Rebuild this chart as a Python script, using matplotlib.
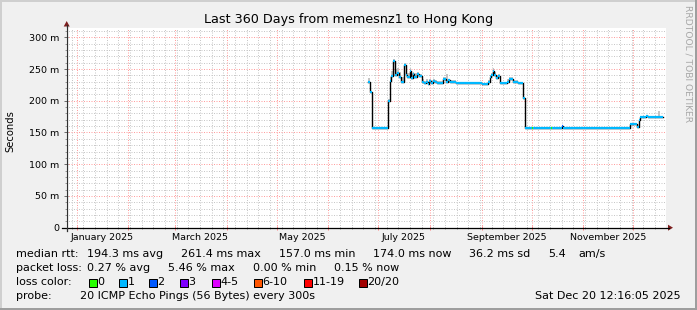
import matplotlib
matplotlib.use("Agg")
import matplotlib.pyplot as plt
import matplotlib.dates as mdates
from matplotlib.patches import Rectangle, Polygon
from matplotlib.lines import Line2D
import numpy as np
import pandas as pd

# ---------------- data ----------------
title = "Last 360 Days from memesnz1 to Hong Kong"
y_label = "Seconds"
t_start = "2024-12-25 12:16:05"
t_end = "2025-12-20 12:16:05"
y_max_ms = 314.6

dates = [
    "2025-06-24 17:00", "2025-06-25 17:00", "2025-06-27 07:00", "2025-07-06 17:00",
    "2025-07-07 17:00", "2025-07-08 17:00", "2025-07-09 22:00", "2025-07-10 22:00",
    "2025-07-11 21:00", "2025-07-13 07:00", "2025-07-14 07:00", "2025-07-16 07:00",
    "2025-07-17 07:00", "2025-07-18 07:00", "2025-07-19 17:00", "2025-07-20 17:00",
    "2025-07-21 12:00", "2025-07-22 07:00", "2025-07-23 22:00", "2025-07-25 02:00",
    "2025-07-26 22:00", "2025-07-28 02:00", "2025-07-29 07:00", "2025-07-30 12:00",
    "2025-07-31 07:00", "2025-08-01 07:00", "2025-08-02 12:00", "2025-08-03 17:00",
    "2025-08-04 22:00", "2025-08-08 22:00", "2025-08-10 07:00", "2025-08-11 12:00",
    "2025-08-12 17:00", "2025-08-14 12:00", "2025-08-16 07:00", "2025-08-31 22:00",
    "2025-09-04 14:00", "2025-09-05 19:00", "2025-09-06 19:00", "2025-09-07 22:00",
    "2025-09-08 14:00", "2025-09-09 19:00", "2025-09-10 17:00", "2025-09-12 05:00",
    "2025-09-16 07:00", "2025-09-17 05:00", "2025-09-18 19:00", "2025-09-19 22:00",
    "2025-09-21 05:00", "2025-09-22 14:00", "2025-09-24 05:00", "2025-09-25 14:00",
    "2025-09-26 19:00", "2025-10-01 06:00", "2025-10-01 20:00", "2025-10-12 12:00",
    "2025-10-13 03:00", "2025-10-18 20:00", "2025-10-19 10:00", "2025-11-28 19:00",
    "2025-12-03 05:00", "2025-12-04 05:00", "2025-12-05 05:00", "2025-12-08 19:00",
    "2025-12-09 12:00", "2025-12-12 10:00", "2025-12-13 00:00", "2025-12-16 00:00",
    "2025-12-17 00:00", "2025-12-18 19:00",
]
median_ms = [
    230, 214, 157.5, 200,
    231, 239, 263, 240,
    243, 238, 230, 256,
    240, 238, 247, 236,
    242, 238, 242, 239,
    230, 227.5, 230, 226,
    231.5, 228, 231.5, 229,
    227.5, 234, 229, 232,
    229, 230, 228.5, 226,
    229, 238, 240.5, 247,
    240, 236, 239, 227.5,
    230, 234, 233.5, 229,
    230, 227.5, 228.5, 204,
    157.5, 157.5, 157.5, 157.5,
    157.5, 159.5, 157.5, 163,
    158, 169.5, 174, 175.5,
    174, 174, 174, 174,
    174, 174,
]
smoke_hi_ms = [
    236, 216, 158.5, 203,
    237, 247, 265, 250,
    252, 245, 237, 260,
    250, 244, 252, 243,
    246, 243, 245, 242,
    234, 231, 234, 230,
    235, 232, 234, 232,
    231, 238, 242, 235,
    232, 232, 230, 228,
    232, 241, 244, 251,
    245, 240, 242, 230,
    234, 238, 237, 233,
    232, 229, 230, 206,
    158.5, 158.5, 159, 158.5,
    158.5, 161, 158.5, 164,
    159, 171, 176, 177,
    175, 175, 175, 184,
    175.5, 174,
]
loss = [
    1, 1, 1, 1,
    1, 1, 1, 1,
    1, 1, 1, 1,
    1, 1, 1, 1,
    1, 1, 1, 1,
    1, 1, 1, 1,
    1, 1, 1, 1,
    1, 1, 1, 1,
    1, 1, 1, 1,
    1, 1, 1, 1,
    1, 1, 1, 1,
    1, 1, 1, 1,
    1, 1, 1, 1,
    1, 0, 1, 0,
    1, 2, 1, 1,
    1, 1, 1, 1,
    1, 0, 1, 1,
    1, 1,
]

loss_labels = ["0", "1", "2", "3", "4-5", "6-10", "11-19", "20/20"]
loss_colors = ["#26ff00", "#00b8ff", "#0059ff", "#7e00ff", "#dd00ff", "#ff5500", "#ff0000", "#a10000"]
loss_color_of = {0: "#26ff00", 1: "#00b8ff", 2: "#0059ff", 3: "#7e00ff"}

month_labels = ["January 2025", "March 2025", "May 2025", "July 2025", "September 2025", "November 2025"]
month_label_dates = ["2025-01-16", "2025-03-16", "2025-05-16", "2025-07-16", "2025-09-16", "2025-11-16"]

y_major = [0, 50, 100, 150, 200, 250, 300]
y_major_labels = ["0", "50 m", "100 m", "150 m", "200 m", "250 m", "300 m"]

rtt_texts = ["median rtt:", "194.3 ms avg", "261.4 ms max", "157.0 ms min", "174.0 ms now", "36.2 ms sd", "5.4", "am/s"]
loss_texts = ["packet loss:", "0.27 % avg", "5.46 % max", "0.00 % min", "0.15 % now"]
loss_color_title = "loss color:"
probe_title = "probe:"
probe_text = "20 ICMP Echo Pings (56 Bytes) every 300s"
stamp_text = "Sat Dec 20 12:16:05 2025"
watermark = "RRDTOOL / TOBI OETIKER"

# ---------------- layout ----------------
W, H = 697, 310
plt.rcParams["font.family"] = ["DejaVu Sans"]

def P(x, y):
    return (x / W, 1 - y / H)

fig = plt.figure(figsize=(W / 100, H / 100), dpi=100)
fig.patch.set_facecolor("#f0f0f0")

PL, PR, PT, PB = 66.0, 666.0, 28.0, 227.7
ax = fig.add_axes([PL / W, 1 - PB / H, (PR - PL) / W, (PB - PT) / H])
ax.set_facecolor("white")
for s in ax.spines.values():
    s.set_visible(False)

x0 = mdates.date2num(pd.Timestamp(t_start))
x1 = mdates.date2num(pd.Timestamp(t_end))
ax.set_xlim(x0, x1)
ax.set_ylim(0, y_max_ms)

# grid
month_starts = pd.date_range("2025-01-01", "2025-12-01", freq="MS")
weeks = pd.date_range("2024-12-29", t_end, freq="7D")
ax.set_xticks(mdates.date2num(month_starts))
ax.set_xticks(mdates.date2num(weeks), minor=True)
ax.set_xticklabels([])
ax.set_yticks(y_major)
ax.set_yticklabels(y_major_labels)
ax.set_yticks([v for v in range(10, 320, 10) if v % 50 != 0], minor=True)

ax.grid(which="minor", color="#c8c8c8", lw=0.72, ls=(0, (1, 1.5)))
ax.grid(which="major", color="#ff9f9f", lw=0.72, ls=(0, (1, 1.5)))
ax.set_axisbelow(True)

ax.tick_params(axis="y", which="major", direction="inout", length=3.5, width=0.72,
               color="#707070", labelsize=6.8, pad=2.8)
ax.tick_params(axis="y", which="minor", direction="inout", length=2, width=0.72, color="#a0a0a0")
ax.tick_params(axis="x", which="major", direction="inout", length=3.5, width=0.72, color="#ff8080")
ax.tick_params(axis="x", which="minor", direction="inout", length=2, width=0.72, color="#a0a0a0")

for lab, d in zip(month_labels, month_label_dates):
    ax.text(mdates.date2num(pd.Timestamp(d)), -10.3 / (PB - PT), lab,
            transform=ax.get_xaxis_transform(), ha="center", va="center", fontsize=6.8)

# data
xd = mdates.date2num(pd.to_datetime(dates))
ax.fill_between(xd, median_ms, smoke_hi_ms, step="post", color="#c4c4c4", lw=0, zorder=3)
ax.step(xd, median_ms, where="post", color="black", lw=1.0, zorder=4)
ax.hlines(median_ms[:-1], xd[:-1], xd[1:], colors=[loss_color_of[l] for l in loss[:-1]],
          lw=1.6, zorder=5, capstyle="butt")

# axes lines with arrows
arrow_c = "#7f1f1f"
fig.add_artist(Line2D([P(62, 0)[0], P(669, 0)[0]], [P(0, PB)[1]] * 2, color="black", lw=0.9))
fig.add_artist(Line2D([P(66.7, 0)[0]] * 2, [P(0, 231)[1], P(0, 25)[1]], color="#303030", lw=0.9))
fig.add_artist(Polygon([P(668, PB - 3), P(668, PB + 3), P(673, PB)], closed=True,
                       color=arrow_c, lw=0))
fig.add_artist(Polygon([P(63.7, 26.5), P(69.7, 26.5), P(66.7, 21)], closed=True,
                       color=arrow_c, lw=0))

# texts
fig.text(*P(349, 19.5), title, ha="center", va="center", fontsize=9.2)
fig.text(*P(10.5, 131), y_label, ha="center", va="center", rotation=90, fontsize=7.2)
fig.text(*P(688, 5), watermark, ha="center", va="top", rotation=270, fontsize=6.6, color="#a8a8a8")

fs = 8.0
rtt_x = [16, 87, 181, 279, 373, 469, 548, 578]
for t, x in zip(rtt_texts, rtt_x):
    fig.text(*P(x, 254.3), t, ha="left", va="center", fontsize=fs)
loss_x = [16, 87, 168, 253, 334]
for t, x in zip(loss_texts, loss_x):
    fig.text(*P(x, 268.3), t, ha="left", va="center", fontsize=fs)
fig.text(*P(16, 282.3), loss_color_title, ha="left", va="center", fontsize=fs)
box_x = [89, 119, 149, 180, 212, 254, 304, 359]
for lab, col, bx in zip(loss_labels, loss_colors, box_x):
    fig.add_artist(Rectangle(P(bx, 287), 8 / W, 8 / H, facecolor=col, edgecolor="black",
                             lw=0.72, transform=fig.transFigure))
    fig.text(*P(bx + 8.5, 282.3), lab, ha="left", va="center", fontsize=fs)
fig.text(*P(16, 296), probe_title, ha="left", va="center", fontsize=fs)
fig.text(*P(80, 296), probe_text, ha="left", va="center", fontsize=fs)
fig.text(*P(681, 296), stamp_text, ha="right", va="center", fontsize=fs)

# frame
fig.add_artist(Line2D([0, 1], [1 - 1 / H] * 2, color="#cfcfcf", lw=1.44))
fig.add_artist(Line2D([1 / W] * 2, [0, 1], color="#cfcfcf", lw=1.44))
fig.add_artist(Line2D([0, 1], [1 / H] * 2, color="#9e9e9e", lw=1.44))
fig.add_artist(Line2D([1 - 1 / W] * 2, [0, 1], color="#9e9e9e", lw=1.44))

fig.savefig("out.png", dpi=100, facecolor=fig.get_facecolor())
